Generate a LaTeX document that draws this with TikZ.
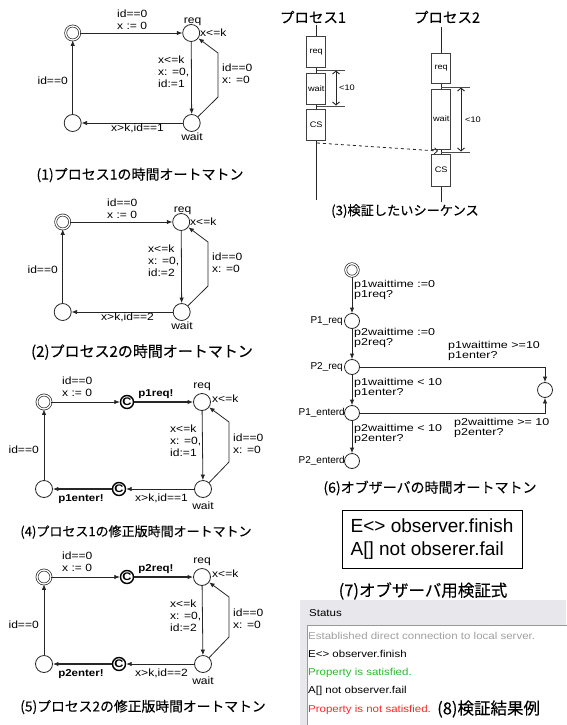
\documentclass[tikz,border=0pt]{standalone}
\usepackage{fontspec}
\setmainfont{Liberation Sans}
\newfontfamily\lab{Liberation Sans}[FakeStretch=1.15]
\newfontfamily\obs{Liberation Sans}[FakeStretch=1.25]
\newfontfamily\stat{Liberation Sans}[FakeStretch=1.15]
\newfontfamily\jp{Noto Sans CJK JP}[FakeBold=0.15]
\usetikzlibrary{arrows.meta}
\definecolor{statbg}{RGB}{232,232,236}
\definecolor{statgray}{RGB}{160,160,160}
\definecolor{statgreen}{RGB}{40,185,40}
\definecolor{statred}{RGB}{255,40,40}
\tikzset{
 st/.style={circle, draw=black!85, minimum size=17pt, inner sep=0pt, line width=0.8pt},
 ini/.style={circle, draw=black!85, minimum size=14pt, inner sep=0pt, line width=0.7pt, double=white, double distance=1.3pt},
 ost/.style={st, minimum size=15pt},
 oini/.style={ini, minimum size=12.5pt},
 cst/.style={circle, draw=black, line width=1.4pt, minimum size=13pt, inner sep=0pt, font=\lab\bfseries\fontsize{11}{11}\selectfont},
 ed/.style={draw=black!85, line width=0.8pt, -{Latex[length=5.5pt,width=4.5pt]}},
 edb/.style={ed, line width=1.5pt},
 lb/.style={font=\lab\fontsize{10.5}{12}\selectfont, inner sep=0pt, align=left},
 lbb/.style={font=\lab\bfseries\fontsize{10}{12}\selectfont, inner sep=0pt},
 ol/.style={font=\obs\fontsize{10}{8.8}\selectfont, inner sep=0pt, align=left, anchor=west},
 loc/.style={font=\fontsize{10}{11}\selectfont, inner sep=0pt, anchor=east},
 jcap/.style={font=\jp\fontsize{14}{16}\selectfont, inner sep=0pt},
 sbox/.style={draw=black!75, line width=0.9pt, fill=white, minimum width=19pt, inner sep=0pt, font=\lab\fontsize{8}{8}\selectfont},
 seql/.style={draw=black!85, line width=0.8pt},
 mrk/.style={draw=black!70, line width=0.9pt},
 dbl/.style={draw=black!85, line width=0.9pt, {Straight Barb[length=3pt,width=7pt]}-{Straight Barb[length=3pt,width=7pt]}},
 sl/.style={font=\lab\fontsize{8}{8}\selectfont, inner sep=0pt, anchor=west},
 stt/.style={font=\stat\fontsize{10}{12}\selectfont, inner sep=0pt, anchor=west},
}
\newcommand\autA[4]{%
\begin{scope}[shift={(#2,#3)}]
 \node[ini] (#1i) at (0,0) {};
 \node[st] (#1r) at (118.5,0) {};
 \node[st] (#1b) at (0,90) {};
 \node[st] (#1w) at (119,90) {};
 \coordinate (#1p) at (145.3,64);
 \coordinate (#1q) at (145.3,20);
 \draw[ed] (#1i) -- (#1r);
 \draw[ed] (#1r) -- (#1w);
 \draw[ed] (#1w) -- (#1b);
 \draw[ed] (#1b) -- (#1i);
 \draw[ed] (#1w) -- (#1p) -- (#1q) -- (#1r);
 \node[lb, anchor=west] (#1l1) at (44.3,-13) {id==0\\x := 0};
 \node[lb] (#1l2) at (120,-11) {req};
 \node[lb, anchor=west] (#1l3) at (127.3,0) {x<=k};
 \node[lb, anchor=west] (#1l4) at (85.3,38.5) {x<=k\\x: =0,\\id:=#4};
 \node[lb, anchor=west] (#1l5) at (149.3,40.5) {id==0\\x: =0};
 \node[lb, anchor=east] (#1l6) at (-4.7,48) {id==0};
 \node[lb, anchor=west] (#1l7) at (38.3,95) {x>k,id==#4};
 \node[lb] (#1l8) at (119.3,104) {wait};
\end{scope}}
\newcommand\autB[4]{%
\begin{scope}[shift={(#2,#3)}]
 \node[ini] (#1i) at (0,0) {};
 \node[cst] (#1c) at (83,0) {C};
 \node[st] (#1r) at (158,0) {};
 \node[st] (#1b) at (0,87) {};
 \node[cst] (#1d) at (75,87) {C};
 \node[st] (#1w) at (159,87) {};
 \coordinate (#1p) at (185,60);
 \coordinate (#1q) at (185,20);
 \draw[ed] (#1i) -- (#1c);
 \draw[edb] (#1c) -- (#1r);
 \draw[ed] (#1r) -- (#1w);
 \draw[ed] (#1w) -- (#1d);
 \draw[edb] (#1d) -- (#1b);
 \draw[ed] (#1b) -- (#1i);
 \draw[ed] (#1w) -- (#1p) -- (#1q) -- (#1r);
 \node[lb, anchor=west] (#1l1) at (18,-15) {id==0\\x := 0};
 \node[lbb] (#1l2) at (112,-8) {p#4req!};
 \node[lb] (#1l3) at (158,-15) {req};
 \node[lb, anchor=west] (#1l4) at (168,-3) {x<=k};
 \node[lb, anchor=west] (#1l5) at (126,38.5) {x<=k\\x: =0,\\id:=#4};
 \node[lb, anchor=west] (#1l6) at (189,42) {id==0\\x: =0};
 \node[lb, anchor=east] (#1l7) at (-5,48) {id==0};
 \node[lbb] (#1l8) at (37,97) {p#4enter!};
 \node[lb, anchor=west] (#1l9) at (91,96) {x>k,id==#4};
 \node[lb] (#1l10) at (159,104) {wait};
\end{scope}}
\begin{document}
\begin{tikzpicture}[x=1pt,y=-1pt]
\useasboundingbox (0,0) rectangle (566,725);
% ---------- panels 1,2,4,5
\autA{a}{72.7}{33}{1}
\autA{b}{62.7}{222}{2}
\autB{c}{44}{402}{1}
\autB{d}{44}{577}{2}
\node[jcap] (cap1) at (140,175) {(1)プロセス1の時間オートマトン};
\node[jcap, font=\jp\fontsize{15}{16}\selectfont] (cap2) at (142,352) {(2)プロセス2の時間オートマトン};
\node[jcap, font=\jp\fontsize{13}{16}\selectfont] (cap4) at (136,532) {(4)プロセス1の修正版時間オートマトン};
\node[jcap, font=\jp\fontsize{13.8}{16}\selectfont] (cap5) at (143,707) {(5)プロセス2の修正版時間オートマトン};
% ---------- panel 3
\node[jcap, font=\jp\fontsize{14.5}{16}\selectfont] (h1) at (313,17) {プロセス1};
\node[jcap, font=\jp\fontsize{14.5}{16}\selectfont] (h2) at (447,17) {プロセス2};
\coordinate (l1t) at (316.7,25);
\coordinate (l1b) at (316.7,200);
\coordinate (l2t) at (441,27);
\coordinate (l2b) at (441,202);
\draw[seql] (l1t) -- (l1b);
\draw[seql] (l2t) -- (l2b);
\node[sbox, minimum height=31pt] (rq1) at (316.2,52) {req};
\node[sbox, minimum height=31pt] (wt1) at (316.2,88.5) {wait};
\node[sbox, minimum height=31pt] (cs1) at (316.2,124.5) {CS};
\node[sbox, minimum height=30pt] (rq2) at (441.2,68) {req};
\node[sbox, minimum height=60pt] (wt2) at (441.2,119) {wait};
\node[sbox, minimum height=32pt] (cs2) at (441.2,170) {CS};
\coordinate (m1a) at (317,70); \coordinate (m1b) at (345,70);
\coordinate (m1c) at (317,106); \coordinate (m1d) at (345,106);
\draw[mrk] (m1a) -- (m1b);
\draw[mrk] (m1c) -- (m1d);
\coordinate (a1t) at (336,70.5); \coordinate (a1b) at (336,105.5);
\draw[dbl] (a1t) -- (a1b);
\node[sl] (lt1) at (339,88) {<10};
\coordinate (m2a) at (441,87); \coordinate (m2b) at (470,87);
\coordinate (m2c) at (441,152); \coordinate (m2d) at (470,152);
\draw[mrk] (m2a) -- (m2b);
\draw[mrk] (m2c) -- (m2d);
\coordinate (a2t) at (461,87.5); \coordinate (a2b) at (461,151.5);
\draw[dbl] (a2t) -- (a2b);
\node[sl] (lt2) at (465,120) {<10};
\coordinate (ds) at (317,143);
\coordinate (de) at (438,151);
\draw[seql, dashed, -{Straight Barb[length=3pt,width=6pt]}] (ds) -- (de);
\node[jcap, font=\jp\fontsize{13.2}{16}\selectfont] (cap3) at (405,211) {(3)検証したいシーケンス};
% ---------- panel 6
\node[oini] (o0) at (352,270) {};
\node[ost] (o1) at (352,321) {};
\node[ost] (o2) at (352,367) {};
\node[ost] (o3) at (352,413) {};
\node[ost] (o4) at (352,461) {};
\node[ost] (o5) at (545,390) {};
\coordinate (c1) at (545,367);
\coordinate (c2) at (545,413);
\draw[ed] (o0) -- (o1);
\draw[ed] (o1) -- (o2);
\draw[ed] (o2) -- (o3);
\draw[ed] (o3) -- (o4);
\draw[ed] (o2) -- (c1) -- (o5);
\draw[ed] (o3) -- (c2) -- (o5);
\node[ol] (e1) at (354,290) {p1waittime :=0\\p1req?};
\node[ol] (e2) at (354,337.5) {p2waittime :=0\\p2req?};
\node[ol] (e3) at (448,351) {p1waittime >=10\\p1enter?};
\node[ol] (e4) at (354,388) {p1waittime < 10\\p1enter?};
\node[ol] (e5) at (454,428) {p2waittime >= 10\\p2enter?};
\node[ol] (e6) at (354,433.5) {p2waittime < 10\\p2enter?};
\node[loc] (n1) at (343,321) {P1\_req};
\node[loc] (n2) at (343,367) {P2\_req};
\node[loc] (n3) at (345,413) {P1\_enterd};
\node[loc] (n4) at (345,461) {P2\_enterd};
\node[jcap] (cap6) at (430,488) {(6)オブザーバの時間オートマトン};
% ---------- panel 7
\node[draw=black, line width=0.8pt, minimum width=180pt, minimum height=58pt, align=left, inner sep=0pt, font=\fontsize{19}{23}\selectfont] (fm) at (432,539) {E<> observer.finish\\A[] not obserer.fail};
\node[jcap, font=\jp\fontsize{16.5}{18}\selectfont] (cap7) at (423,591) {(7)オブザーバ用検証式};
% ---------- panel 8
\node[fill=statbg, anchor=north west, minimum width=266pt, minimum height=125pt, inner sep=0pt] (sbg) at (300,600) {};
\node[fill=white, draw=black!40, line width=0.7pt, anchor=north west, minimum width=270pt, minimum height=110pt, inner sep=0pt] (sbx) at (307,625) {};
\node[stt] (s0) at (309,613) {Status};
\node[stt, text=statgray] (s1) at (308,635.5) {Established direct connection to local server.};
\node[stt] (s2) at (308,654) {E<> observer.finish};
\node[stt, text=statgreen] (s3) at (308,672.5) {Property is satisfied.};
\node[stt] (s4) at (308,691) {A[] not observer.fail};
\node[stt, text=statred] (s5) at (308,709.5) {Property is not satisfied.};
\node[jcap, anchor=west, font=\jp\fontsize{16.5}{18}\selectfont] (cap8) at (437,709) {(8)検証結果例};
\end{tikzpicture}
\end{document}
